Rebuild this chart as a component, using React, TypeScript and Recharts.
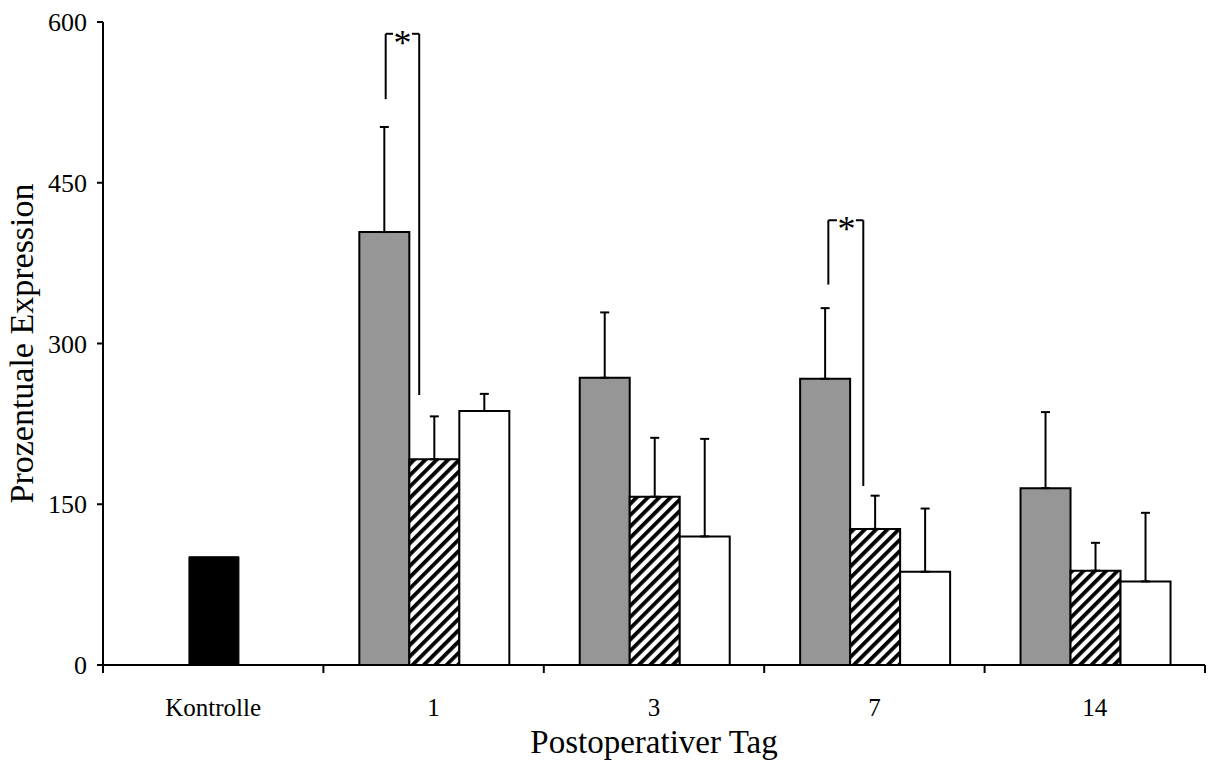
import React from 'react';
import { BarChart, Bar, XAxis, YAxis, ErrorBar, ReferenceLine, ReferenceDot, Label } from 'recharts';

const categories = ['Kontrolle', '1', '3', '7', '14'];
const kontrolleValues: (number | null)[] = [101, null, null, null, null];
const grayValues: (number | null)[] = [null, 404, 268, 267, 165];
const grayErrors: (number | null)[] = [null, 98, 61, 66, 71];
const hatchedValues: (number | null)[] = [null, 192, 157, 127, 88];
const hatchedErrors: (number | null)[] = [null, 40, 55, 31, 26];
const whiteValues: (number | null)[] = [null, 237, 120, 87, 78];
const whiteErrors: (number | null)[] = [null, 16, 91, 59, 64];
const yTicks = [0, 150, 300, 450, 600];

// significance brackets: category, x offsets (fraction of category width from its centre), y in data units
const bracketCategory = ['1', '7'];
const bracketLeftOff = [-0.2174, -0.209];
const bracketRightOff = [-0.0653, -0.0504];
const bracketTopY = [589, 415];
const bracketLeftBottomY = [528, 355];
const bracketRightBottomY = [252, 167];
const starOff = [-0.141, -0.127];
const starY = [589, 415];
const starGap = 0.043;

const FONT = '"Liberation Serif", "Times New Roman", serif';

const CHART_W = 1208;
const CHART_H = 763;
const MARGIN = { top: 22, right: 3, bottom: 0, left: 0 };
const Y_AXIS_W = 103;
const X_AXIS_H = 98;
const PLOT_W = CHART_W - MARGIN.left - MARGIN.right - Y_AXIS_W;
const BAND = PLOT_W / categories.length;

const toErr = (e: number | null) => (e == null ? null : [0, e]);

const data = categories.map((c, i) => ({
  cat: c,
  gray: grayValues[i],
  grayErr: toErr(grayErrors[i]),
  hatched: hatchedValues[i],
  hatchedErr: toErr(hatchedErrors[i]),
  black: kontrolleValues[i],
  white: whiteValues[i],
  whiteErr: toErr(whiteErrors[i]),
}));

const CatTick = (props: any) => {
  const { x, y, payload, index } = props;
  const last = index === categories.length - 1;
  return (
    <g>
      <line x1={x - BAND / 2} y1={y} x2={x - BAND / 2} y2={y + 8} stroke="#000" strokeWidth={2} />
      {last && <line x1={x + BAND / 2} y1={y} x2={x + BAND / 2} y2={y + 8} stroke="#000" strokeWidth={2} />}
      <text x={x} y={y + 51} textAnchor="middle" fontFamily={FONT} fontSize={25} fill="#000">
        {payload.value}
      </text>
    </g>
  );
};

const YTitle = (p: any) => {
  const vb = p.viewBox || { x: 0, y: 22, width: 103, height: 643 };
  const cx = vb.x + 33;
  const cy = vb.y + vb.height / 2;
  return (
    <text
      x={0}
      y={0}
      transform={`translate(${cx}, ${cy}) rotate(-90)`}
      textAnchor="middle"
      fontFamily={FONT}
      fontSize={34}
      fill="#000"
    >
      Prozentuale Expression
    </text>
  );
};

const makeShiftedLine = (off1: number, off2: number) => (p: any) => (
  <line
    x1={p.x1 + off1 * BAND}
    y1={p.y1}
    x2={p.x2 + off2 * BAND}
    y2={p.y2}
    stroke="#000"
    strokeWidth={2}
  />
);

const makeStar = (off: number) => (p: any) => (
  <text
    x={p.cx + off * BAND}
    y={p.cy + 21}
    textAnchor="middle"
    fontFamily={FONT}
    fontSize={36}
    fill="#000"
  >
    *
  </text>
);

export default function App() {
  const brackets: any[] = [];
  bracketCategory.forEach((cat, i) => {
    const lo = bracketLeftOff[i];
    const ro = bracketRightOff[i];
    const so = starOff[i];
    const ty = bracketTopY[i];
    const seg = (o1: number, y1: number, o2: number, y2: number, k: string) => (
      <ReferenceLine
        key={k}
        segment={[{ x: cat, y: y1 }, { x: cat, y: y2 }]}
        ifOverflow="visible"
        shape={makeShiftedLine(o1, o2)}
      />
    );
    brackets.push(seg(lo, bracketLeftBottomY[i], lo, ty, `l${i}`));
    brackets.push(seg(lo, ty, so - starGap, ty, `tl${i}`));
    brackets.push(seg(so + starGap, ty, ro, ty, `tr${i}`));
    brackets.push(seg(ro, ty, ro, bracketRightBottomY[i], `r${i}`));
    brackets.push(
      <ReferenceDot key={`s${i}`} x={cat} y={starY[i]} r={1} ifOverflow="visible" shape={makeStar(so)} />
    );
  });

  return (
    <div style={{ position: 'absolute', left: 0, top: 0, width: CHART_W, height: CHART_H, background: '#fff' }}>
      <svg width={0} height={0} style={{ position: 'absolute' }}>
        <defs>
          <pattern id="hatch" patternUnits="userSpaceOnUse" width={8} height={8} patternTransform="rotate(45)">
            <rect x={0} y={0} width={8} height={8} fill="#fff" />
            <rect x={0} y={0} width={3.8} height={8} fill="#000" />
          </pattern>
        </defs>
      </svg>
      <BarChart
        width={CHART_W}
        height={CHART_H}
        data={data}
        margin={MARGIN}
        barGap={0}
        barCategoryGap="16.3%"
      >
        <XAxis
          dataKey="cat"
          height={X_AXIS_H}
          interval={0}
          tickSize={0}
          tickMargin={0}
          tickLine={false}
          axisLine={{ stroke: '#000', strokeWidth: 2 }}
          tick={<CatTick />}
        >
          <Label
            value="Postoperativer Tag"
            position="insideBottom"
            offset={10}
            style={{ fontFamily: FONT, fontSize: 33, fill: '#000' }}
          />
        </XAxis>
        <YAxis
          width={Y_AXIS_W}
          domain={[0, 600]}
          ticks={yTicks}
          interval={0}
          tickSize={6}
          tickMargin={10}
          axisLine={{ stroke: '#000', strokeWidth: 2 }}
          tickLine={{ stroke: '#000', strokeWidth: 2 }}
          tick={{ fontFamily: FONT, fontSize: 26, fill: '#000' }}
          allowDataOverflow
        >
          <Label content={<YTitle />} />
        </YAxis>
        <Bar dataKey="gray" stackId="a" fill="#969696" stroke="#000" strokeWidth={2} isAnimationActive={false}>
          <ErrorBar dataKey="grayErr" width={4.5} stroke="#000" strokeWidth={2} direction="y" />
        </Bar>
        <Bar dataKey="hatched" stackId="b" fill="url(#hatch)" stroke="#000" strokeWidth={2} isAnimationActive={false}>
          <ErrorBar dataKey="hatchedErr" width={4.5} stroke="#000" strokeWidth={2} direction="y" />
        </Bar>
        <Bar dataKey="black" stackId="b" fill="#000" stroke="#000" strokeWidth={1} isAnimationActive={false} />
        <Bar dataKey="white" stackId="c" fill="#fff" stroke="#000" strokeWidth={2} isAnimationActive={false}>
          <ErrorBar dataKey="whiteErr" width={4.5} stroke="#000" strokeWidth={2} direction="y" />
        </Bar>
        {brackets}
      </BarChart>
    </div>
  );
}
